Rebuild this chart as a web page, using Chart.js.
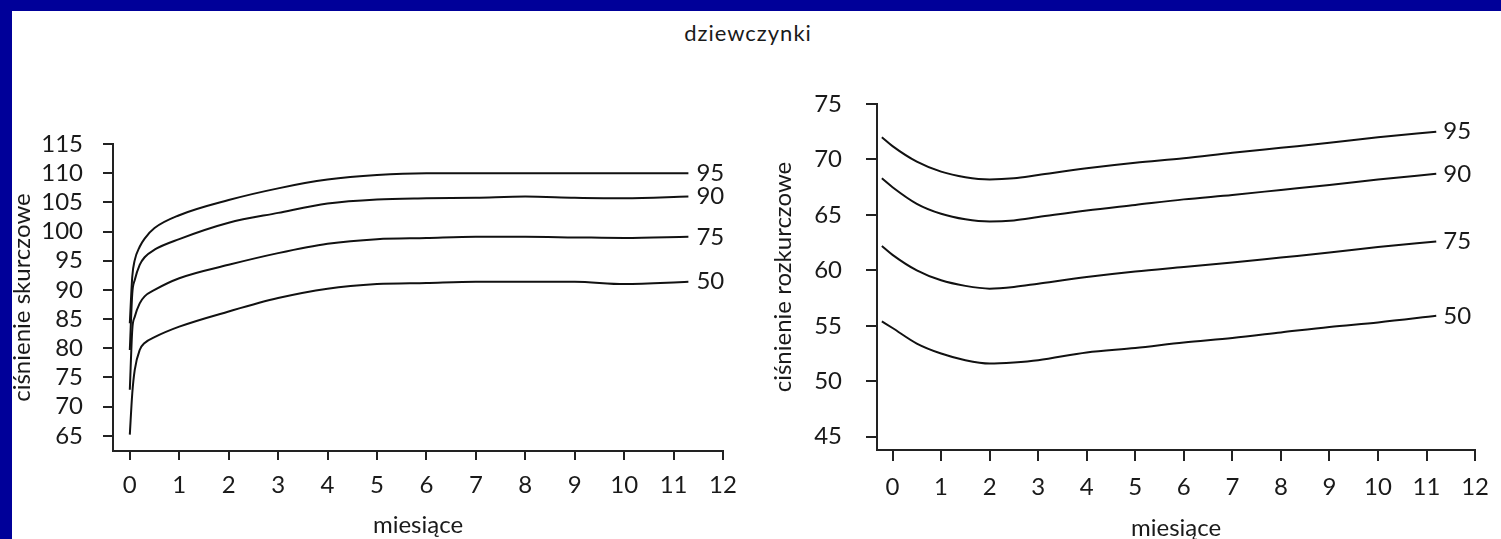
<!DOCTYPE html>
<html lang="pl">
<head>
<meta charset="utf-8">
<title>dziewczynki</title>
<script src="https://cdn.jsdelivr.net/npm/chart.js@4.4.1/dist/chart.umd.min.js"></script>
<style>
  html, body { margin: 0; padding: 0; background: #fff; }
  body { width: 1501px; height: 539px; position: relative; overflow: hidden; font-family: Lato, "DejaVu Sans", sans-serif; }
  .bar-top { position: absolute; left: 0; top: 0; width: 1501px; height: 11px; background: #000099; }
  .bar-left { position: absolute; left: 0; top: 0; width: 12px; height: 539px; background: #000099; }
  #title { position: absolute; left: 0; width: 1496px; top: 19px; text-align: center; font-size: 22px; letter-spacing: 1px; color: #1a1a1a; }
  .box { position: absolute; top: 60px; height: 479px; }
  #boxSys { left: 12px; width: 740px; }
  #boxDia { left: 760px; width: 741px; }
</style>
</head>
<body>
<div class="bar-top"></div>
<div class="bar-left"></div>
<div id="title">dziewczynki</div>
<div class="box" id="boxSys"><canvas id="chartSys"></canvas></div>
<div class="box" id="boxDia"><canvas id="chartDia"></canvas></div>

<script>
// ===============================
// DATA
// ===============================
const percentyle = ["95", "90", "75", "50"];
const xTicks = [0, 1, 2, 3, 4, 5, 6, 7, 8, 9, 10, 11, 12];

// ciśnienie skurczowe
const sysMiesiace = [0, 0.05, 0.1, 0.2, 0.3, 0.5, 1, 2, 3, 4, 5, 6, 7, 8, 9, 10, 11.3];
const sys95 = [84.3, 92.3, 95.1, 97.4, 98.8, 100.6, 102.8, 105.4, 107.4, 108.9, 109.7, 110, 110, 110, 110, 110, 110];
const sys90 = [79.7, 89.4, 91.7, 94.3, 95.6, 96.9, 98.7, 101.5, 103.2, 104.8, 105.5, 105.7, 105.8, 106.0, 105.8, 105.7, 106.0];
const sys75 = [72.9, 83.2, 85.4, 87.7, 88.9, 90.0, 92.0, 94.3, 96.3, 97.9, 98.7, 98.9, 99.1, 99.1, 99.0, 98.9, 99.1];
const sys50 = [65.2, 72.3, 76.3, 79.7, 80.9, 81.9, 83.7, 86.3, 88.6, 90.2, 91.0, 91.2, 91.4, 91.4, 91.4, 91.0, 91.4];
const sysTicks = [65, 70, 75, 80, 85, 90, 95, 100, 105, 110, 115];

// ciśnienie rozkurczowe
const diaMiesiace = [-0.22, 0, 0.5, 1, 1.5, 2, 2.5, 3, 4, 5, 6, 7, 8, 9, 10, 11.2];
const dia95 = [72.0, 71.2, 69.8, 68.9, 68.4, 68.2, 68.3, 68.6, 69.2, 69.7, 70.1, 70.6, 71.05, 71.5, 72.0, 72.5];
const dia90 = [68.3, 67.5, 66.0, 65.1, 64.6, 64.4, 64.5, 64.8, 65.4, 65.9, 66.4, 66.8, 67.25, 67.7, 68.2, 68.7];
const dia75 = [62.2, 61.4, 60.0, 59.1, 58.6, 58.35, 58.5, 58.8, 59.4, 59.9, 60.3, 60.7, 61.15, 61.6, 62.1, 62.6];
const dia50 = [55.4, 54.8, 53.4, 52.5, 51.9, 51.6, 51.7, 51.9, 52.6, 53.0, 53.5, 53.9, 54.4, 54.9, 55.3, 55.9];
const diaTicks = [45, 50, 55, 60, 65, 70, 75];

// ===============================
// HELPERS
// ===============================
const INK = "#1a1a1a";
const FONT = "Lato, 'DejaVu Sans', sans-serif";

function toPoints(xs, ys) {
  return xs.map((x, i) => ({ x, y: ys[i] }));
}

function dataset(label, xs, ys) {
  return {
    label,
    data: toPoints(xs, ys),
    borderColor: "#111",
    borderWidth: 2,
    pointRadius: 0,
    fill: false,
    cubicInterpolationMode: "monotone"
  };
}

// etykiety percentyli na końcu linii
const endLabels = {
  id: "endLabels",
  afterDatasetsDraw(chart, args, opts) {
    const ctx = chart.ctx;
    ctx.save();
    ctx.font = "24px " + FONT;
    ctx.fillStyle = INK;
    ctx.textAlign = "left";
    ctx.textBaseline = "middle";
    chart.data.datasets.forEach((ds, i) => {
      const pts = chart.getDatasetMeta(i).data;
      const last = pts[pts.length - 1];
      ctx.fillText(ds.label, last.x + opts.gap, last.y);
    });
    ctx.restore();
  }
};

function makeChart(id, cfg) {
  const axisFont = { family: FONT, size: 24 };
  const titleFont = { family: FONT, size: 24, lineHeight: 1 };

  return new Chart(document.getElementById(id), {
    type: "line",
    data: { datasets: cfg.datasets },
    plugins: [endLabels],
    options: {
      responsive: true,
      maintainAspectRatio: false,
      animation: false,
      layout: { padding: cfg.padding },
      plugins: {
        legend: { display: false },
        tooltip: { enabled: false },
        endLabels: { gap: cfg.labelGap }
      },
      scales: {
        x: {
          type: "linear",
          min: cfg.xMin,
          max: 12,
          afterBuildTicks: s => { s.ticks = xTicks.map(v => ({ value: v })); },
          afterFit: s => { s.height = cfg.xHeight; },
          ticks: { font: axisFont, color: INK, padding: cfg.xPad, maxRotation: 0, autoSkip: false },
          grid: { drawOnChartArea: false, tickLength: cfg.xTickLen, color: "#222", lineWidth: 2 },
          border: { color: "#222", width: 2 },
          title: { display: true, text: "miesiące", font: titleFont, color: INK, padding: { top: 0, bottom: cfg.xTitlePad } }
        },
        y: {
          type: "linear",
          min: cfg.yMin,
          max: cfg.yMax,
          afterBuildTicks: s => { s.ticks = cfg.yTicks.map(v => ({ value: v })); },
          afterFit: s => { s.width = cfg.yWidth; },
          ticks: { font: axisFont, color: INK, padding: cfg.yPad, autoSkip: false },
          grid: { drawOnChartArea: false, tickLength: cfg.yTickLen, color: "#222", lineWidth: 2 },
          border: { color: "#222", width: 2 },
          title: { display: true, text: cfg.yTitle, font: titleFont, color: INK, padding: { top: cfg.yTitlePad, bottom: 0 } }
        }
      }
    }
  });
}

// ===============================
// WYKRESY
// ===============================
const sysSeries = [sys95, sys90, sys75, sys50];
const diaSeries = [dia95, dia90, dia75, dia50];

makeChart("chartSys", {
  datasets: percentyle.map((p, i) => dataset(p, sysMiesiace, sysSeries[i])),
  padding: { top: 84, right: 29, bottom: 0, left: 0 },
  xMin: -0.34, xHeight: 88, xPad: 11, xTickLen: 9, xTitlePad: 2,
  yMin: 62.4, yMax: 115, yTicks: sysTicks, yWidth: 101, yPad: 20, yTickLen: 10,
  yTitle: "ciśnienie skurczowe", yTitlePad: -2,
  labelGap: 8
});

makeChart("chartDia", {
  datasets: percentyle.map((p, i) => dataset(p, diaMiesiace, diaSeries[i])),
  padding: { top: 44, right: 16, bottom: 0, left: 0 },
  xMin: -0.32, xHeight: 89, xPad: 12, xTickLen: 11, xTitlePad: -1,
  yMin: 43.8, yMax: 75, yTicks: diaTicks, yWidth: 117, yPad: 24, yTickLen: 11,
  yTitle: "ciśnienie rozkurczowe", yTitlePad: 11,
  labelGap: 7
});
</script>
</body>
</html>
